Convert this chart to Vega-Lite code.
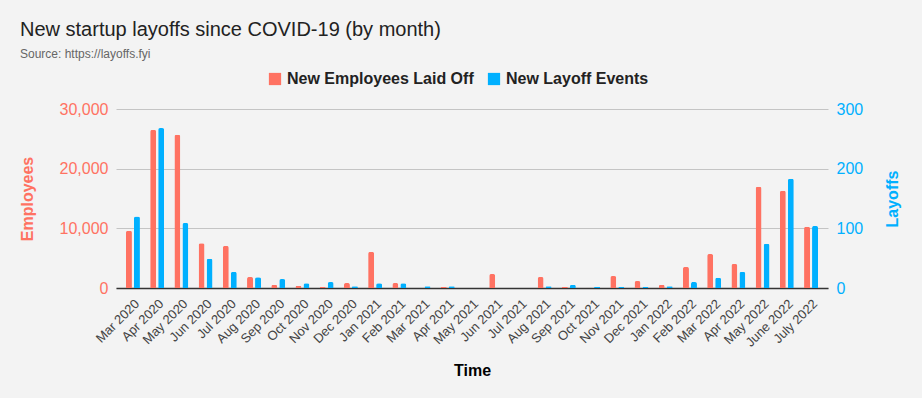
{
  "$schema": "https://vega.github.io/schema/vega-lite/v6.json",
  "width": 712,
  "height": 179,
  "autosize": {"type": "none"},
  "padding": {"left": 116, "top": 109, "right": 94, "bottom": 110},
  "background": "#f3f3f3",
  "config": {
    "font": "Liberation Sans",
    "view": {"stroke": null}
  },
  "title": {
    "text": "New startup layoffs since COVID-19 (by month)",
    "subtitle": "Source: https://layoffs.fyi",
    "anchor": "start",
    "frame": "group",
    "dx": -96,
    "offset": 11,
    "font": "Liberation Sans",
    "fontSize": 20,
    "fontWeight": "normal",
    "color": "#222222",
    "subtitleFont": "Liberation Sans",
    "subtitleFontSize": 12,
    "subtitleColor": "#666666",
    "subtitlePadding": 9
  },
  "data": {
    "values": [
      {"month": "Mar 2020", "employees": 9600, "events": 120},
      {"month": "Apr 2020", "employees": 26500, "events": 268},
      {"month": "May 2020", "employees": 25700, "events": 109},
      {"month": "Jun 2020", "employees": 7500, "events": 49},
      {"month": "Jul 2020", "employees": 7050, "events": 27},
      {"month": "Aug 2020", "employees": 1850, "events": 18},
      {"month": "Sep 2020", "employees": 500, "events": 15},
      {"month": "Oct 2020", "employees": 340, "events": 8},
      {"month": "Nov 2020", "employees": 170, "events": 10},
      {"month": "Dec 2020", "employees": 840, "events": 3},
      {"month": "Jan 2021", "employees": 6050, "events": 8},
      {"month": "Feb 2021", "employees": 840, "events": 8},
      {"month": "Mar 2021", "employees": 0, "events": 3},
      {"month": "Apr 2021", "employees": 170, "events": 3},
      {"month": "May 2021", "employees": 0, "events": 0},
      {"month": "Jun 2021", "employees": 2350, "events": 0},
      {"month": "Jul 2021", "employees": 0, "events": 0},
      {"month": "Aug 2021", "employees": 1850, "events": 3},
      {"month": "Sep 2021", "employees": 170, "events": 5},
      {"month": "Oct 2021", "employees": 40, "events": 2},
      {"month": "Nov 2021", "employees": 2000, "events": 2},
      {"month": "Dec 2021", "employees": 1170, "events": 2},
      {"month": "Jan 2022", "employees": 500, "events": 3},
      {"month": "Feb 2022", "employees": 3530, "events": 10},
      {"month": "Mar 2022", "employees": 5700, "events": 17},
      {"month": "Apr 2022", "employees": 4030, "events": 27},
      {"month": "May 2022", "employees": 16950, "events": 74},
      {"month": "June 2022", "employees": 16300, "events": 183},
      {"month": "July 2022", "employees": 10250, "events": 104}
    ]
  },
  "encoding": {
    "x": {
      "field": "month",
      "type": "ordinal",
      "sort": null,
      "scale": {"paddingInner": 0, "paddingOuter": 0.2},
      "axis": {
        "labelAngle": -45,
        "labelFontSize": 13,
        "labelColor": "#444444",
        "labelPadding": 9,
        "ticks": false,
        "domainColor": "#333333",
        "domainWidth": 1.5,
        "title": "Time",
        "titleFontSize": 16,
        "titleFontWeight": "bold",
        "titleColor": "#000000",
        "titlePadding": 13
      }
    }
  },
  "layer": [
    {
      "mark": {"type": "bar", "width": 6, "xOffset": -4, "cornerRadiusTopLeft": 2, "cornerRadiusTopRight": 2},
      "encoding": {
        "y": {
          "field": "employees",
          "type": "quantitative",
          "scale": {"domain": [0, 30000]},
          "axis": {
            "orient": "left",
            "values": [0, 10000, 20000, 30000],
            "format": ",.0f",
            "grid": true,
            "gridColor": "#c4c4c4",
            "domain": false,
            "ticks": false,
            "labelColor": "#ff7262",
            "labelFontSize": 16,
            "labelPadding": 8,
            "title": "Employees",
            "titleColor": "#ff7262",
            "titleFontSize": 16,
            "titleFontWeight": "bold",
            "titlePadding": 24
          }
        },
        "color": {
          "datum": "New Employees Laid Off",
          "scale": {"domain": ["New Employees Laid Off", "New Layoff Events"], "range": ["#ff7262", "#00b0ff"]},
          "legend": {
            "title": null,
            "orient": "none",
            "direction": "horizontal",
            "legendX": 151,
            "legendY": -38,
            "symbolType": "square",
            "symbolSize": 150,
            "symbolStrokeWidth": 0,
            "labelFontSize": 16,
            "labelFontWeight": "bold",
            "labelColor": "#222222",
            "labelLimit": 400,
            "columnPadding": 12
          }
        }
      }
    },
    {
      "mark": {"type": "bar", "width": 6, "xOffset": 4, "cornerRadiusTopLeft": 2, "cornerRadiusTopRight": 2},
      "encoding": {
        "y": {
          "field": "events",
          "type": "quantitative",
          "scale": {"domain": [0, 300]},
          "axis": {
            "orient": "right",
            "values": [0, 100, 200, 300],
            "grid": false,
            "domain": false,
            "ticks": false,
            "labelColor": "#00b0ff",
            "labelFontSize": 16,
            "labelPadding": 8,
            "title": "Layoffs",
            "titleAngle": -90,
            "titleColor": "#00b0ff",
            "titleFontSize": 16,
            "titleFontWeight": "bold",
            "titlePadding": 38
          }
        },
        "color": {"datum": "New Layoff Events"}
      }
    }
  ],
  "resolve": {"scale": {"y": "independent"}}
}
